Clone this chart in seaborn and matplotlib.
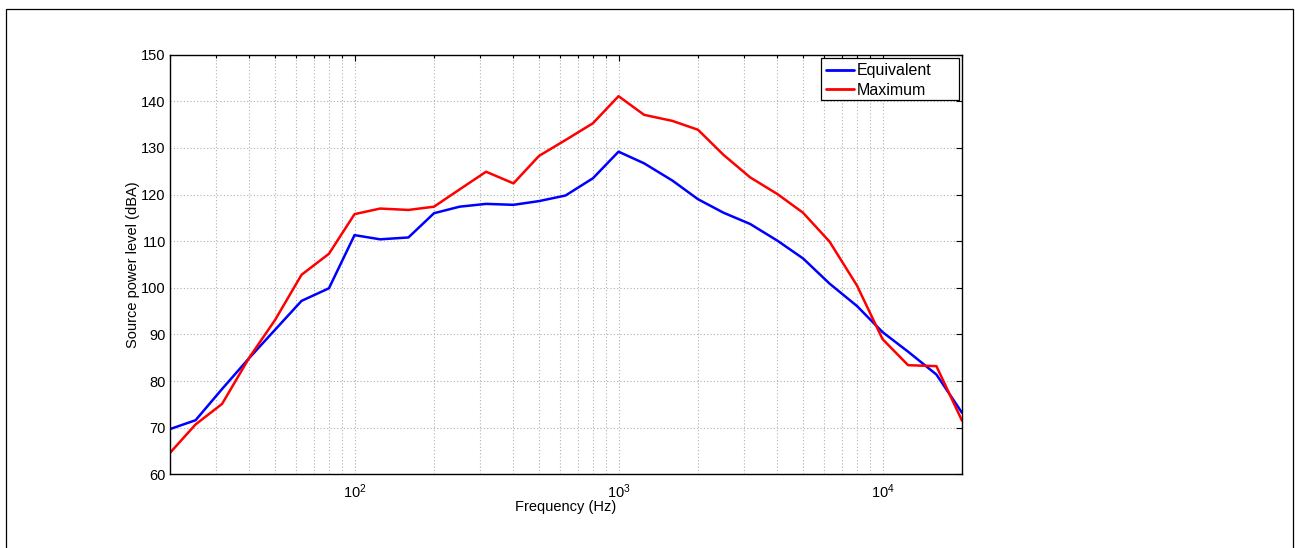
import numpy as np
import pandas as pd
import matplotlib
matplotlib.use("Agg")
import matplotlib.pyplot as plt
from matplotlib.patches import Rectangle
from matplotlib.ticker import LogLocator, FixedLocator, NullFormatter, FixedFormatter
import seaborn as sns

freqs = [20, 25, 31.5, 40, 50, 63, 80, 100, 125, 160, 200, 250, 315, 400, 500, 630, 800,
         1000, 1250, 1600, 2000, 2500, 3150, 4000, 5000, 6300, 8000, 10000, 12500, 16000, 20000]
equivalent = [69.7, 71.6, 78.3, 85.0, 91.0, 97.2, 99.9, 111.3, 110.4, 110.8, 116.0, 117.4, 118.0,
              117.8, 118.6, 119.8, 123.5, 129.2, 126.7, 123.0, 119.0, 116.1, 113.7, 110.1, 106.3,
              100.9, 96.1, 90.5, 86.3, 81.4, 73.2]
maximum = [64.6, 70.7, 75.1, 85.1, 93.1, 102.8, 107.3, 115.8, 117.0, 116.7, 117.4, 121.1, 124.9,
           122.4, 128.3, 131.7, 135.3, 141.1, 137.1, 135.8, 133.9, 128.5, 123.7, 120.1, 116.1,
           109.9, 100.5, 89.0, 83.4, 83.2, 71.5]
series_names = ["Equivalent", "Maximum"]
y_ticks = [60, 70, 80, 90, 100, 110, 120, 130, 140, 150]
x_major = [100, 1000, 10000]
x_major_labels = ["$10^2$", "$10^3$", "$10^4$"]

df = pd.DataFrame({
    "Frequency": freqs * 2,
    "Level": equivalent + maximum,
    "Series": [series_names[0]] * len(freqs) + [series_names[1]] * len(freqs),
})

sns.set_style("white")
plt.rcParams["font.family"] = ["Liberation Sans", "DejaVu Sans"]
plt.rcParams["mathtext.fontset"] = "custom"
plt.rcParams["mathtext.rm"] = "Liberation Sans"
plt.rcParams["mathtext.it"] = "Liberation Sans"
plt.rcParams["text.color"] = "black"
plt.rcParams["axes.labelcolor"] = "black"

fig = plt.figure(figsize=(12.95, 5.48), dpi=100)
ax = fig.add_axes([170 / 1295, 1 - 474.3 / 548, (962 - 170) / 1295, (474.3 - 54.7) / 548])

sns.lineplot(data=df, x="Frequency", y="Level", hue="Series",
             palette={"Equivalent": "#0000ff", "Maximum": "#ff0000"},
             linewidth=1.8, ax=ax, legend=True)

ax.set_xscale("log")
ax.set_xlim(20, 20000)
ax.set_ylim(60, 150)
ax.set_yticks(y_ticks)
ax.xaxis.set_major_locator(FixedLocator(x_major))
ax.xaxis.set_major_formatter(FixedFormatter(x_major_labels))
ax.xaxis.set_minor_locator(LogLocator(base=10, subs=np.arange(2, 10), numticks=20))
ax.xaxis.set_minor_formatter(NullFormatter())

ax.grid(True, which="major", axis="both", linestyle=(0, (1, 2)), color="#b0b0b0", linewidth=0.8)
ax.grid(True, which="minor", axis="x", linestyle=(0, (1, 2)), color="#b0b0b0", linewidth=0.8)

ax.tick_params(which="both", direction="in", top=True, right=True, colors="black",
               labelsize=10.5, length=4.5, width=0.8, labelcolor="black")
ax.tick_params(which="minor", length=2.5)
ax.tick_params(axis="x", pad=6)
ax.tick_params(axis="y", pad=3)
for s in ax.spines.values():
    s.set_color("black")
    s.set_linewidth(1.0)
    s.set_visible(True)

ax.set_xlabel("Frequency (Hz)", fontsize=10.5, labelpad=-1, color="black")
ax.set_ylabel("Source power level (dBA)", fontsize=10.5, labelpad=1, color="black")

# legend box (MATLAB-style, with wide right padding)
box_x0, box_x1 = (821 - 170) / 792, (959 - 170) / 792
box_y1, box_y0 = (474.3 - 58.3) / 419.6, (474.3 - 100.3) / 419.6
ax.add_patch(Rectangle((box_x0, box_y0), box_x1 - box_x0, box_y1 - box_y0,
                       transform=ax.transAxes, facecolor="white", edgecolor="black",
                       linewidth=0.9, zorder=5))
leg = ax.legend(loc="upper left", bbox_to_anchor=(box_x0, box_y1), frameon=False,
                fontsize=11.5, borderpad=0.3, handlelength=1.75,
                handletextpad=0.2, labelspacing=0.3, borderaxespad=0.0)
leg.set_title(None)
leg.set_zorder(6)
for line in leg.get_lines():
    line.set_linewidth(2.0)

fig.patches.append(Rectangle((6 / 1295, -0.05), (1293 - 6) / 1295, 1 - 9 / 548 + 0.05,
                             transform=fig.transFigure, fill=False, edgecolor="black",
                             linewidth=0.9, zorder=0))

fig.savefig("out.png", dpi=100)
